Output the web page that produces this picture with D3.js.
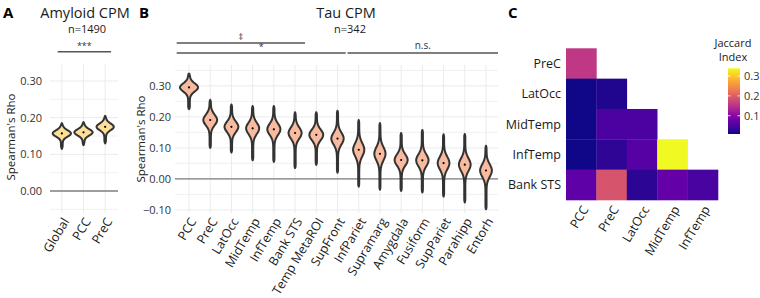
<!DOCTYPE html>
<html>
<head>
<meta charset="utf-8">
<script src="https://cdn.jsdelivr.net/npm/d3@7"></script>
<style>
  body { margin: 0; background: #fff; }
  text { font-family: "Open Sans", "Noto Sans", sans-serif; }
</style>
</head>
<body>
<svg id="fig" width="760" height="298"></svg>
<script>
// ---- data ----
const amyRegions = ['Global', 'PCC', 'PreC']
const amyMin = [0.115, 0.125, 0.130]
const amyMed = [0.157, 0.160, 0.175]
const amyMax = [0.185, 0.188, 0.205]
const amySd = [0.0085, 0.0085, 0.009]

const tauRegions = ['PCC', 'PreC', 'LatOcc', 'MidTemp', 'InfTemp', 'Bank STS', 'Temp MetaROI', 'SupFront',
    'InfPariet', 'Supramarg', 'Amygdala', 'Fusiform', 'SupPariet', 'Parahipp', 'Entorh']
const tauMin = [0.225, 0.100, 0.085, 0.060, 0.055, 0.035, 0.045, 0.020, -0.025, -0.035, -0.039, -0.044, -0.057, -0.076, -0.098]
const tauMed = [0.295, 0.190, 0.168, 0.163, 0.160, 0.148, 0.142, 0.130, 0.094, 0.081, 0.061, 0.060, 0.051, 0.046, 0.027]
const tauMax = [0.340, 0.255, 0.240, 0.235, 0.235, 0.215, 0.215, 0.220, 0.190, 0.180, 0.148, 0.158, 0.144, 0.145, 0.107]
const tauSd = [0.013, 0.017, 0.017, 0.018, 0.018, 0.018, 0.017, 0.019, 0.021, 0.021, 0.018, 0.019, 0.020, 0.020, 0.020]

const yTicks = [-0.10, 0.00, 0.10, 0.20, 0.30]

const heatCols = ['PCC', 'PreC', 'LatOcc', 'MidTemp', 'InfTemp']
const heatRows = ['PreC', 'LatOcc', 'MidTemp', 'InfTemp', 'Bank STS']
// jaccard[row][col], null = upper triangle
const jaccard = [
    [0.157, null, null, null, null],
    [0.010, 0.018, null, null, null],
    [0.010, 0.050, 0.050, null, null],
    [0.010, 0.028, 0.058, 0.340, null],
    [0.064, 0.190, 0.025, 0.070, 0.048]
]
const legendTicks = [0.1, 0.2, 0.3]

const svg = d3.select('#fig')

const gridColor = '#ebebeb'

// violin drawing helper
const drawViolins = function (g, xScale, yScale, cats, mins, meds, maxs, sds, k, fill) {
    const area = d3.area()
        .y(d => yScale(d.v))
        .x0(d => d.cx - d.w)
        .x1(d => d.cx + d.w)
        .curve(d3.curveBasis)

    cats.forEach((c, i) => {
        const cx = xScale(c) + xScale.bandwidth() / 2
        const W = Math.min(9.5, k / sds[i])
        const pts = []
        const n = 60
        for (let j = 0; j <= n; j++) {
            const v = mins[i] + (maxs[i] - mins[i]) * j / n
            const z = (v - meds[i]) / sds[i]
            let w = W * (0.09 + 0.91 * Math.exp(-0.5 * z * z))
            const edge = Math.min(v - mins[i], maxs[i] - v) / 0.008
            w *= Math.sqrt(Math.min(1, Math.max(0, edge)))
            pts.push({v: v, cx: cx, w: w})
        }
        g.append('path')
            .datum(pts)
            .attr('d', area)
            .attr('fill', fill)
            .attr('stroke', '#333')
            .attr('stroke-width', 2)
            .attr('stroke-linejoin', 'round')
        g.append('circle')
            .attr('cx', cx)
            .attr('cy', yScale(meds[i]))
            .attr('r', 1.1)
            .attr('fill', '#000')
    })
}

const drawGrid = function (g, xScale, yScale, cats, x0, x1, ymin, ymax) {
    // minor + major horizontal lines every 0.05
    for (let t = -0.10; t <= 0.36; t += 0.05) {
        const tv = Math.round(t * 100) / 100
        if (tv < ymin || tv > ymax) continue
        g.append('line')
            .attr('x1', x0).attr('x2', x1)
            .attr('y1', yScale(tv)).attr('y2', yScale(tv))
            .attr('stroke', gridColor)
            .attr('stroke-width', Math.round(tv * 100) % 10 === 0 ? 1 : 0.7)
    }
    cats.forEach(c => {
        const cx = xScale(c) + xScale.bandwidth() / 2
        g.append('line')
            .attr('x1', cx).attr('x2', cx)
            .attr('y1', yScale(ymax)).attr('y2', yScale(ymin))
            .attr('stroke', gridColor)
            .attr('stroke-width', 1)
    })
}

const yTickLabels = function (g, yScale, ticks, x) {
    ticks.forEach(t => {
        g.append('text')
            .attr('x', x).attr('y', yScale(t))
            .attr('dy', '0.35em')
            .attr('text-anchor', 'end')
            .attr('font-size', '11px')
            .attr('fill', '#333')
            .text(d3.format('.2f')(t))
    })
}

const xCatLabels = function (g, xScale, cats, y) {
    cats.forEach(c => {
        const cx = xScale(c) + xScale.bandwidth() / 2
        g.append('text')
            .attr('transform', `translate(${cx + 4},${y}) rotate(-59)`)
            .attr('text-anchor', 'end')
            .attr('dy', '0.35em')
            .attr('font-size', '12.5px')
            .attr('fill', '#1a1a1a')
            .text(c)
    })
}

const bracket = function (g, x1, x2, y, label, ly, fs) {
    g.append('line')
        .attr('x1', x1).attr('x2', x2).attr('y1', y).attr('y2', y)
        .attr('stroke', '#555').attr('stroke-width', 1.6)
    g.append('text')
        .attr('x', (x1 + x2) / 2).attr('y', ly)
        .attr('text-anchor', 'middle')
        .attr('font-size', fs)
        .attr('fill', '#333')
        .text(label)
}

const panelLetter = function (x, y, t) {
    svg.append('text')
        .attr('x', x).attr('y', y)
        .attr('font-family', '"Liberation Sans", Arial, sans-serif')
        .attr('font-weight', 'bold')
        .attr('font-size', '15px')
        .text(t)
}

/* ---------- Panel A ---------- */
{
    const g = svg.append('g')
    const xA = d3.scaleBand().domain(amyRegions).range([51, 116])
    const yA = d3.scaleLinear().domain([-0.06, 0.345]).range([213, 64.5])

    drawGrid(g, xA, yA, amyRegions, 50, 118, -0.06, 0.345)
    g.append('line')
        .attr('x1', 50).attr('x2', 118)
        .attr('y1', yA(0)).attr('y2', yA(0))
        .attr('stroke', '#7f7f7f').attr('stroke-width', 1.4)

    yTickLabels(g, yA, [0.00, 0.10, 0.20, 0.30], 42)
    drawViolins(g, xA, yA, amyRegions, amyMin, amyMed, amyMax, amySd, 0.078, '#fddf97')
    xCatLabels(g, xA, amyRegions, 219)

    g.append('text')
        .attr('transform', `translate(15,137) rotate(-90)`)
        .attr('text-anchor', 'middle')
        .attr('font-size', '11.5px')
        .attr('fill', '#1a1a1a')
        .text("Spearman's Rho")

    g.append('text').attr('x', 85).attr('y', 18).attr('text-anchor', 'middle')
        .attr('font-size', '14.5px').attr('fill', '#1a1a1a').text('Amyloid CPM')
    g.append('text').attr('x', 87).attr('y', 33).attr('text-anchor', 'middle')
        .attr('font-size', '11px').attr('fill', '#1a1a1a').text('n=1490')
    bracket(g, 57.7, 111, 51.7, '***', 49, '9px')
    panelLetter(3, 18, 'A')
}

/* ---------- Panel B ---------- */
{
    const g = svg.append('g')
    const xB = d3.scaleBand().domain(tauRegions).range([178.4, 496.6])
    const yB = d3.scaleLinear().domain([-0.11, 0.368]).range([213, 64.8])

    drawGrid(g, xB, yB, tauRegions, 175, 498, -0.11, 0.368)
    g.append('line')
        .attr('x1', 175).attr('x2', 498)
        .attr('y1', yB(0)).attr('y2', yB(0))
        .attr('stroke', '#7f7f7f').attr('stroke-width', 1.4)

    yTickLabels(g, yB, yTicks, 171)
    drawViolins(g, xB, yB, tauRegions, tauMin, tauMed, tauMax, tauSd, 0.118, '#f9bb9f')
    xCatLabels(g, xB, tauRegions, 219)

    g.append('text')
        .attr('transform', `translate(145,139) rotate(-90)`)
        .attr('text-anchor', 'middle')
        .attr('font-size', '11.5px')
        .attr('fill', '#1a1a1a')
        .text("Spearman's Rho")

    g.append('text').attr('x', 346).attr('y', 18).attr('text-anchor', 'middle')
        .attr('font-size', '14.5px').attr('fill', '#1a1a1a').text('Tau CPM')
    g.append('text').attr('x', 350).attr('y', 33).attr('text-anchor', 'middle')
        .attr('font-size', '11px').attr('fill', '#1a1a1a').text('n=342')

    bracket(g, 176.7, 305, 43, '\u2021', 40, '9px')
    bracket(g, 176.7, 345.7, 53, '*', 50, '9px')
    bracket(g, 347.5, 498, 53, 'n.s.', 49, '10px')
    panelLetter(139, 18, 'B')
}

/* ---------- Panel C ---------- */
{
    const g = svg.append('g')
    const xC = d3.scaleBand().domain(heatCols).range([566, 718])
    const yC = d3.scaleBand().domain(heatRows).range([48.3, 200])
    const color = d3.scaleSequential(d3.interpolatePlasma).domain([0.008, 0.34])

    heatRows.forEach((r, i) => {
        heatCols.forEach((c, j) => {
            const v = jaccard[i][j]
            if (v === null) return
            g.append('rect')
                .attr('x', xC(c)).attr('y', yC(r))
                .attr('width', xC.bandwidth() + 0.3).attr('height', yC.bandwidth() + 0.3)
                .attr('fill', color(v))
        })
    })

    heatRows.forEach(r => {
        g.append('text')
            .attr('x', 561).attr('y', yC(r) + yC.bandwidth() / 2)
            .attr('dy', '0.35em')
            .attr('text-anchor', 'end')
            .attr('font-size', '12.5px')
            .attr('fill', '#1a1a1a')
            .text(r)
    })
    xCatLabels(g, xC, heatCols, 207)

    // legend
    const yL = d3.scaleLinear().domain([0.008, 0.339]).range([134, 68.3])
    const defs = svg.append('defs')
    const grad = defs.append('linearGradient')
        .attr('id', 'plasmaGrad')
        .attr('x1', '0%').attr('x2', '0%').attr('y1', '100%').attr('y2', '0%')
    d3.range(0, 1.01, 0.1).forEach(t => {
        grad.append('stop')
            .attr('offset', `${t * 100}%`)
            .attr('stop-color', d3.interpolatePlasma(t))
    })
    g.append('rect')
        .attr('x', 728).attr('y', yL(0.339))
        .attr('width', 12).attr('height', yL(0.008) - yL(0.339))
        .attr('fill', 'url(#plasmaGrad)')
    legendTicks.forEach(t => {
        g.append('line').attr('x1', 728).attr('x2', 730.5)
            .attr('y1', yL(t)).attr('y2', yL(t))
            .attr('stroke', '#fff').attr('stroke-width', 0.8)
        g.append('line').attr('x1', 737.5).attr('x2', 740)
            .attr('y1', yL(t)).attr('y2', yL(t))
            .attr('stroke', '#fff').attr('stroke-width', 0.8)
        g.append('text')
            .attr('x', 744).attr('y', yL(t))
            .attr('dy', '0.35em')
            .attr('font-size', '11px')
            .attr('fill', '#333')
            .text(t.toFixed(1))
    })
    g.append('text').attr('x', 733).attr('y', 47).attr('text-anchor', 'middle')
        .attr('font-size', '11px').attr('fill', '#1a1a1a').text('Jaccard')
    g.append('text').attr('x', 733).attr('y', 61).attr('text-anchor', 'middle')
        .attr('font-size', '11px').attr('fill', '#1a1a1a').text('Index')

    panelLetter(508, 18, 'C')
}
</script>
</body>
</html>
